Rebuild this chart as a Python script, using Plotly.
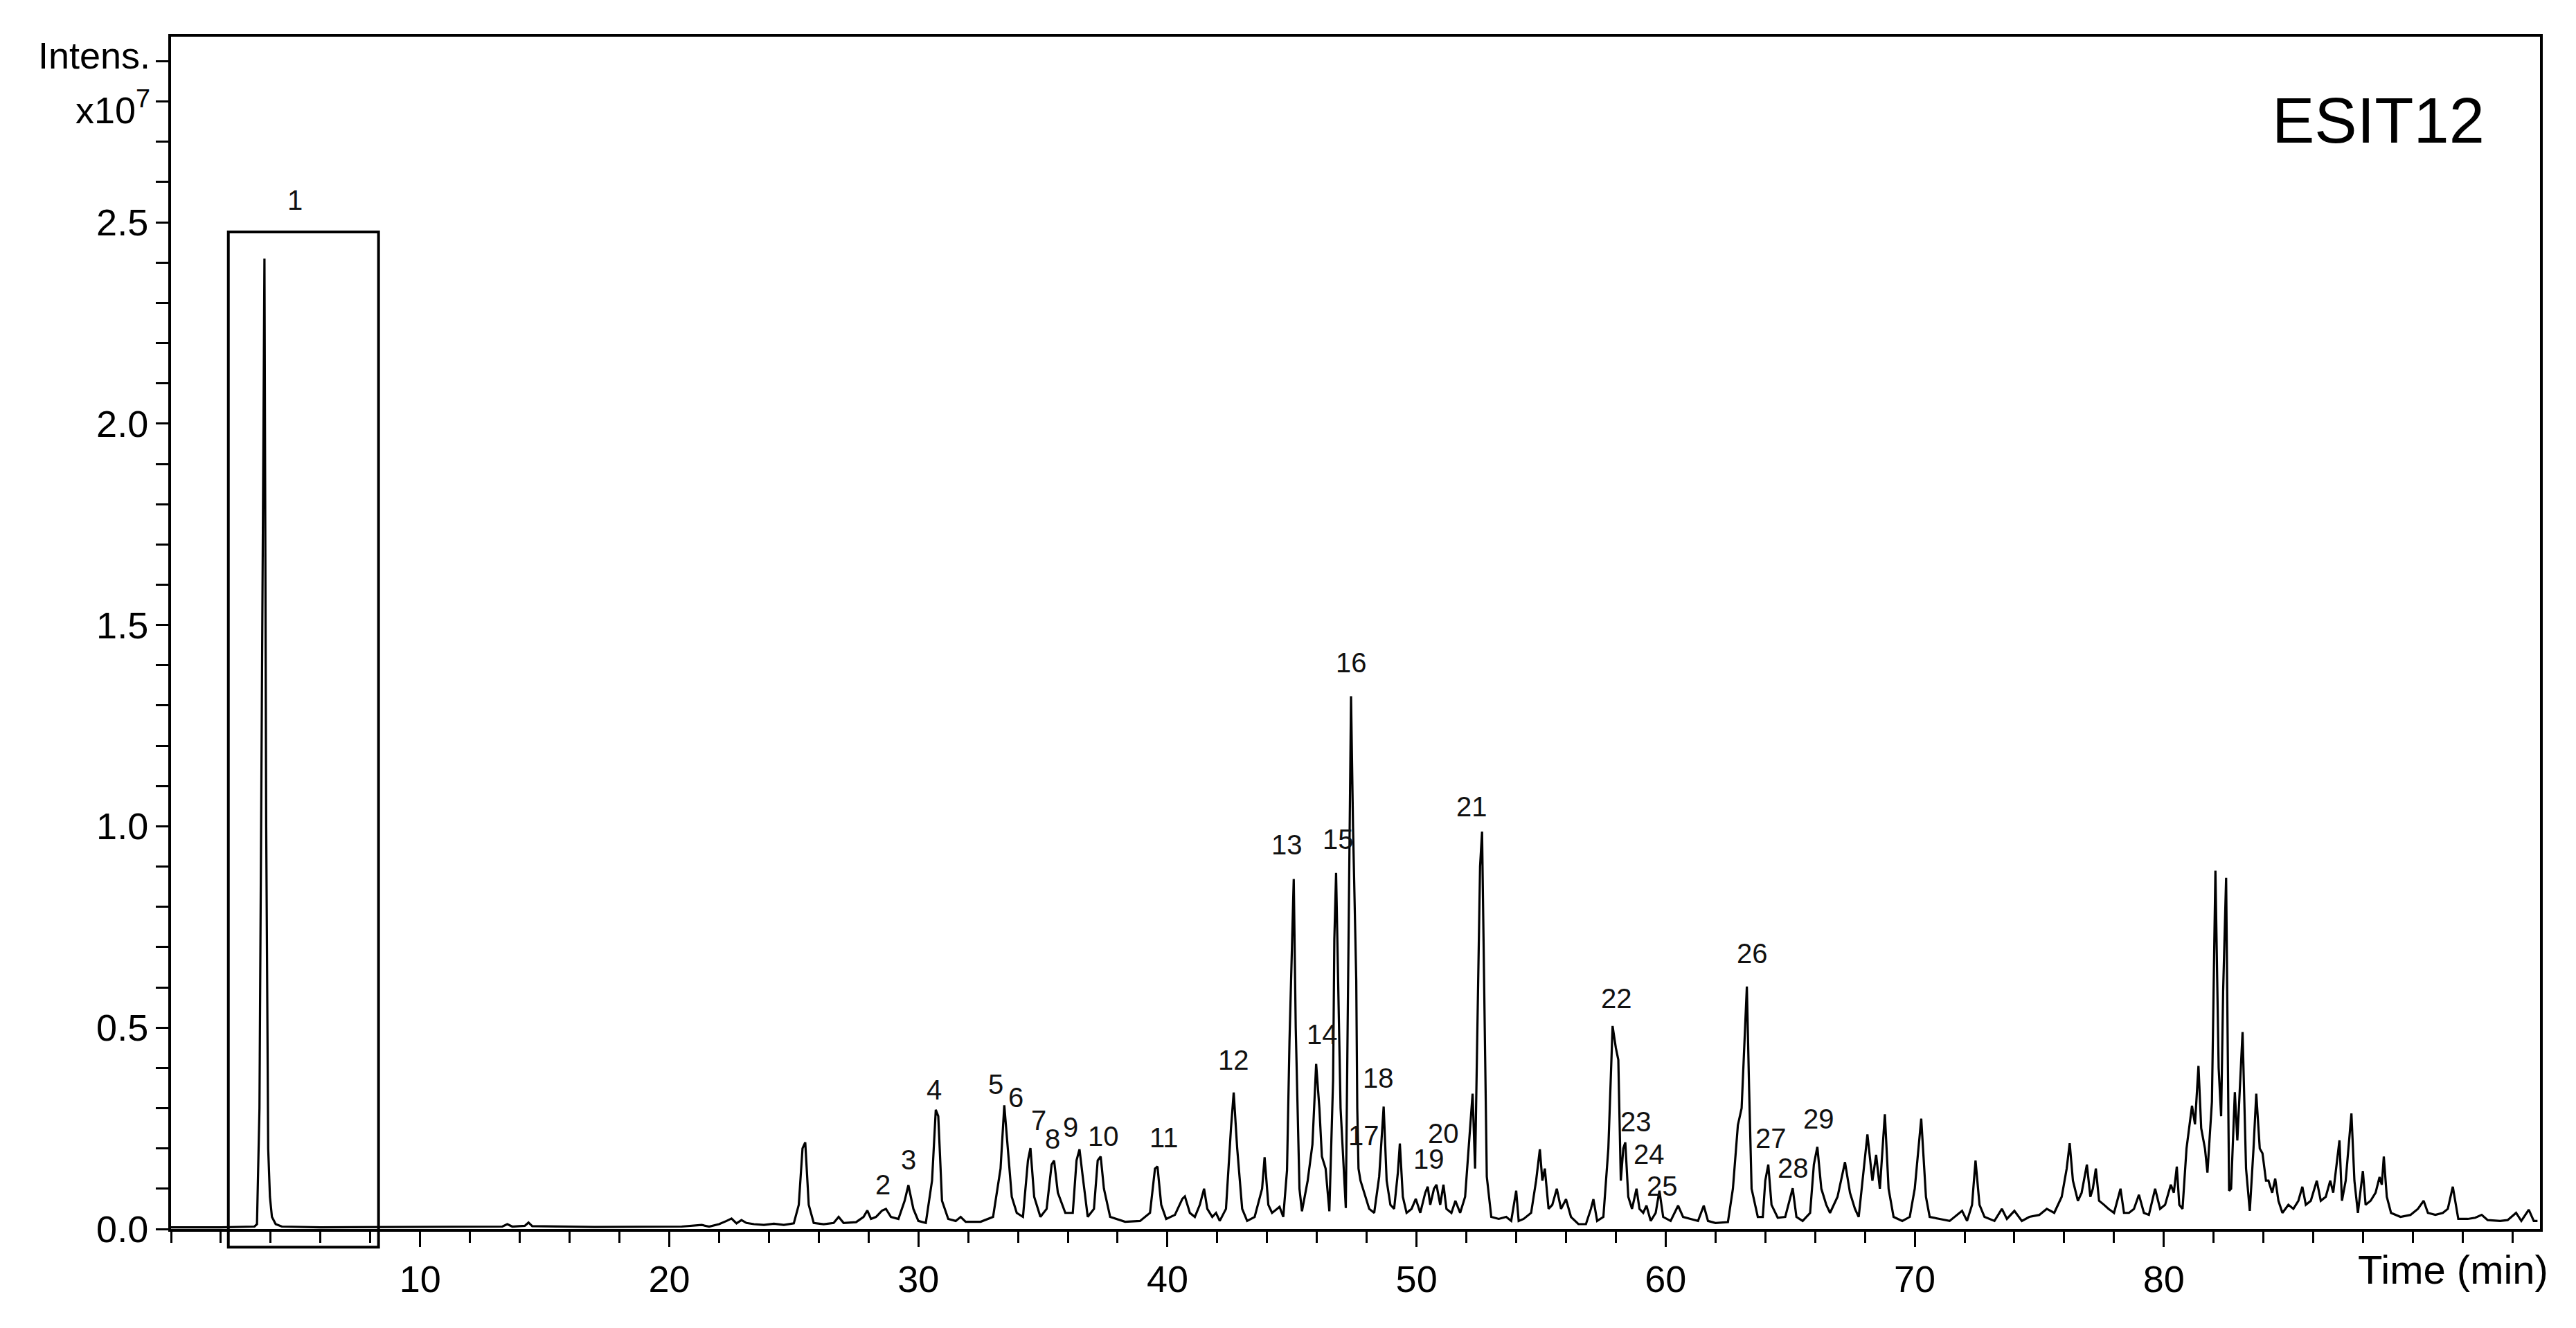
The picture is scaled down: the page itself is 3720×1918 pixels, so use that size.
import plotly.graph_objects as go

# ---- chromatogram (retention time in min, intensity in 1e7 counts) ----
time_min = [
    0.0, 2.0, 3.35, 3.45, 3.55, 3.65, 3.75, 3.82, 3.90, 3.97, 4.05, 4.20, 4.45,
    6.0, 9.0, 12.0, 13.3, 13.5, 13.7, 14.2, 14.35, 14.5, 17.0, 20.5, 21.3, 21.6,
    22.0, 22.3, 22.5, 22.7, 22.9, 23.1, 23.4, 23.8, 24.2, 24.6, 25.0, 25.2, 25.35,
    25.46, 25.6, 25.8, 26.2, 26.6, 26.8, 27.0, 27.5, 27.8, 27.95, 28.1, 28.3, 28.55,
    28.7, 28.9, 29.2, 29.45, 29.6, 29.8, 30.0, 30.3, 30.55, 30.7, 30.8, 30.95, 31.2,
    31.5, 31.7, 31.9, 32.5, 33.0, 33.3, 33.45, 33.6, 33.75, 33.95, 34.2, 34.4, 34.5,
    34.65, 34.9, 35.15, 35.35, 35.45, 35.6, 35.9, 36.2, 36.35, 36.47, 36.6, 36.8,
    37.05, 37.2, 37.32, 37.45, 37.7, 38.3, 38.9, 39.1, 39.3, 39.5, 39.6, 39.75,
    39.95, 40.3, 40.6, 40.7, 40.9, 41.1, 41.3, 41.47, 41.6, 41.8, 41.95, 42.1,
    42.35, 42.55, 42.66, 42.8, 43.0, 43.2, 43.5, 43.8, 43.9, 44.05, 44.2, 44.4,
    44.5, 44.65, 44.8, 44.9, 45.07, 45.15, 45.3, 45.4, 45.63, 45.82, 45.97, 46.1,
    46.2, 46.35, 46.5, 46.65, 46.7, 46.77, 46.85, 46.95, 47.16, 47.25, 47.3, 47.37,
    47.45, 47.58, 47.62, 47.67, 47.75, 47.85, 48.1, 48.3, 48.5, 48.68, 48.8, 48.95,
    49.1, 49.25, 49.33, 49.45, 49.6, 49.8, 49.97, 50.15, 50.35, 50.45, 50.55, 50.7,
    50.8, 50.95, 51.08, 51.2, 51.4, 51.56, 51.75, 51.95, 52.1, 52.25, 52.35, 52.45,
    52.55, 52.63, 52.72, 52.82, 53.0, 53.3, 53.6, 53.8, 54.0, 54.1, 54.3, 54.6,
    54.8, 54.95, 55.05, 55.15, 55.3, 55.45, 55.63, 55.8, 56.0, 56.2, 56.5, 56.8,
    57.0, 57.1, 57.25, 57.5, 57.7, 57.87, 58.0, 58.1, 58.2, 58.3, 58.38, 58.5,
    58.65, 58.83, 58.95, 59.1, 59.23, 59.4, 59.6, 59.75, 59.9, 60.2, 60.5, 60.7,
    61.0, 61.3, 61.53, 61.7, 62.0, 62.5, 62.7, 62.9, 63.05, 63.26, 63.35, 63.45,
    63.7, 63.9, 64.0, 64.12, 64.25, 64.5, 64.8, 65.0, 65.1, 65.25, 65.5, 65.8,
    65.95, 66.09, 66.25, 66.45, 66.6, 66.9, 67.2, 67.4, 67.6, 67.75, 67.95, 68.1,
    68.3, 68.45, 68.6, 68.8, 68.95, 69.15, 69.5, 69.8, 70.0, 70.26, 70.45, 70.6,
    71.0, 71.4, 71.9, 72.1, 72.3, 72.44, 72.6, 72.8, 73.2, 73.5, 73.7, 74.0, 74.3,
    74.6, 75.0, 75.3, 75.6, 75.9, 76.1, 76.22, 76.35, 76.55, 76.7, 76.91, 77.05,
    77.15, 77.27, 77.4, 77.6, 77.78, 78.0, 78.26, 78.4, 78.6, 78.8, 79.0, 79.2,
    79.4, 79.65, 79.85, 80.05, 80.28, 80.4, 80.52, 80.62, 80.75, 80.91, 81.13,
    81.25, 81.39, 81.5, 81.65, 81.75, 81.93, 82.07, 82.2, 82.3, 82.38, 82.5,
    82.62, 82.7, 82.85, 82.95, 83.16, 83.3, 83.45, 83.6, 83.71, 83.85, 83.96, 84.1,
    84.2, 84.35, 84.47, 84.6, 84.76, 85.0, 85.2, 85.4, 85.56, 85.7, 85.9, 86.14,
    86.3, 86.5, 86.68, 86.8, 87.05, 87.15, 87.3, 87.53, 87.65, 87.79, 87.99, 88.1,
    88.3, 88.5, 88.66, 88.75, 88.83, 88.95, 89.12, 89.5, 89.9, 90.2, 90.43, 90.6,
    90.9, 91.2, 91.4, 91.6, 91.72, 91.82, 92.2, 92.5, 92.76, 93.0, 93.5, 93.8,
    94.14, 94.35, 94.65, 94.85, 95.0,
]
intensity = [
    0.004, 0.004, 0.006, 0.012, 0.30, 1.3, 2.41, 1.0, 0.2, 0.08, 0.03, 0.012, 0.006,
    0.004, 0.005, 0.005, 0.006, 0.012, 0.006, 0.008, 0.016, 0.007, 0.005, 0.006, 0.01, 0.006,
    0.012, 0.02, 0.026, 0.014, 0.022, 0.015, 0.012, 0.01, 0.013, 0.01, 0.014, 0.06, 0.2,
    0.215, 0.06, 0.015, 0.012, 0.015, 0.03, 0.015, 0.017, 0.03, 0.046, 0.025, 0.03, 0.046,
    0.05, 0.03, 0.025, 0.07, 0.109, 0.05, 0.02, 0.015, 0.12, 0.296, 0.28, 0.07, 0.025,
    0.02, 0.03, 0.018, 0.018, 0.03, 0.15, 0.307, 0.2, 0.08, 0.04, 0.03, 0.17, 0.201,
    0.08, 0.03, 0.05, 0.16, 0.17, 0.09, 0.04, 0.04, 0.17, 0.198, 0.13, 0.03,
    0.05, 0.17, 0.18, 0.1, 0.03, 0.018, 0.02, 0.03, 0.04, 0.15, 0.155, 0.06,
    0.025, 0.035, 0.075, 0.081, 0.04, 0.03, 0.06, 0.1, 0.05, 0.03, 0.04, 0.02,
    0.05, 0.25, 0.339, 0.2, 0.05, 0.02, 0.03, 0.1, 0.178, 0.06, 0.04, 0.05,
    0.055, 0.03, 0.146, 0.468, 0.869, 0.5, 0.1, 0.044, 0.12, 0.21, 0.41, 0.3,
    0.18, 0.15, 0.044, 0.37, 0.72, 0.884, 0.6, 0.3, 0.052, 0.65, 0.95, 1.323,
    1.0, 0.617, 0.3, 0.15, 0.12, 0.1, 0.05, 0.04, 0.13, 0.304, 0.12, 0.06,
    0.05, 0.14, 0.212, 0.08, 0.04, 0.05, 0.075, 0.04, 0.09, 0.105, 0.06, 0.1,
    0.11, 0.06, 0.11, 0.05, 0.04, 0.07, 0.04, 0.08, 0.2, 0.336, 0.15, 0.5,
    0.9, 0.987, 0.6, 0.13, 0.03, 0.025, 0.03, 0.02, 0.095, 0.02, 0.025, 0.04,
    0.12, 0.198, 0.12, 0.15, 0.05, 0.06, 0.1, 0.05, 0.074, 0.03, 0.012, 0.012,
    0.05, 0.074, 0.02, 0.03, 0.2, 0.504, 0.45, 0.42, 0.12, 0.2, 0.215, 0.08,
    0.05, 0.1, 0.05, 0.04, 0.058, 0.02, 0.04, 0.095, 0.03, 0.02, 0.058, 0.03,
    0.025, 0.02, 0.058, 0.02, 0.015, 0.017, 0.1, 0.258, 0.3, 0.602, 0.35, 0.1,
    0.03, 0.03, 0.12, 0.16, 0.06, 0.028, 0.03, 0.08, 0.101, 0.03, 0.02, 0.04,
    0.16, 0.204, 0.1, 0.06, 0.04, 0.08, 0.166, 0.09, 0.05, 0.03, 0.15, 0.235,
    0.12, 0.184, 0.1, 0.285, 0.1, 0.03, 0.02, 0.03, 0.1, 0.274, 0.08, 0.03,
    0.025, 0.02, 0.045, 0.02, 0.06, 0.17, 0.06, 0.03, 0.02, 0.05, 0.025, 0.045, 0.02,
    0.03, 0.035, 0.05, 0.04, 0.08, 0.15, 0.213, 0.12, 0.07, 0.09, 0.16, 0.08,
    0.1, 0.15, 0.07, 0.06, 0.05, 0.04, 0.1, 0.04, 0.04, 0.05, 0.085, 0.04,
    0.035, 0.1, 0.05, 0.06, 0.11, 0.09, 0.155, 0.06, 0.05, 0.2, 0.306,
    0.26, 0.405, 0.25, 0.2, 0.14, 0.316, 0.89, 0.4, 0.28, 0.59, 0.872,
    0.095, 0.1, 0.34, 0.22, 0.489, 0.15, 0.045, 0.2, 0.336, 0.2, 0.188, 0.12,
    0.12, 0.09, 0.125, 0.07, 0.04, 0.06, 0.05, 0.07, 0.105, 0.06, 0.07, 0.12,
    0.07, 0.08, 0.12, 0.09, 0.22, 0.07, 0.12, 0.287, 0.12, 0.04, 0.144, 0.06,
    0.07, 0.09, 0.129, 0.11, 0.18, 0.08, 0.04, 0.03, 0.035, 0.05, 0.07, 0.04,
    0.035, 0.04, 0.05, 0.105, 0.06, 0.025, 0.025, 0.028, 0.035, 0.022, 0.02, 0.022,
    0.04, 0.02, 0.048, 0.02, 0.02,
]

# ---- numbered peak labels ----
peak_labels = [str(i) for i in range(1, 30)]
label_time = [4.98, 28.57, 29.61, 30.63, 33.12, 33.92, 34.83, 35.40, 36.10, 37.43,
              39.85, 42.66, 44.81, 46.22, 46.86, 47.37, 47.89, 48.48, 50.49, 51.08,
              52.23, 58.03, 58.81, 59.33, 59.87, 63.47, 64.22, 65.13, 66.15]
label_intensity = [2.555, 0.110, 0.172, 0.345, 0.359, 0.327, 0.270, 0.224, 0.253, 0.230,
                   0.227, 0.420, 0.955, 0.484, 0.968, 1.407, 0.232, 0.375, 0.173, 0.237,
                   1.049, 0.573, 0.266, 0.186, 0.106, 0.685, 0.225, 0.151, 0.273]

# ---- axis ticks ----
x_tickvals = [10, 20, 30, 40, 50, 60, 70, 80]
x_ticktext = ["10", "20", "30", "40", "50", "60", "70", "80"]
y_tickvals = [0.0, 0.5, 1.0, 1.5, 2.0, 2.5]
y_ticktext = ["0.0", "0.5", "1.0", "1.5", "2.0", "2.5"]
y_unit_text = ["Intens.", "x10<sup>7</sup>"]
y_unit_pos = [2.915, 2.785]

# ---- framed region around peak 1 ----
box_time = [2.30, 8.33]
box_intensity = [-0.045, 2.476]

X_RANGE = [0, 95.1]
Y_RANGE = [0, 2.961]
FONT = "Liberation Sans, Arial, sans-serif"

fig = go.Figure()
fig.add_trace(go.Scatter(
    x=time_min, y=intensity, mode="lines",
    line=dict(color="black", width=3.2), showlegend=False, hoverinfo="skip",
))

ann = []
for lab, t, v in zip(peak_labels, label_time, label_intensity):
    ann.append(dict(x=t, y=v, xref="x", yref="y", text=lab, showarrow=False,
                    font=dict(family=FONT, size=40, color="#111111"),
                    xanchor="center", yanchor="middle"))
for txt, v in zip(y_unit_text, y_unit_pos):
    ann.append(dict(x=0, y=v, xref="paper", yref="y", text=txt, showarrow=False,
                    font=dict(family=FONT, size=54, color="black"),
                    xanchor="right", yanchor="middle", xshift=-28))
ann.append(dict(x=88.6, y=2.753, xref="x", yref="y", text="ESIT12", showarrow=False,
                font=dict(family=FONT, size=92, color="black"),
                xanchor="center", yanchor="middle"))
ann.append(dict(x=91.6, y=-0.0337, xref="x", yref="paper", text="Time (min)", showarrow=False,
                font=dict(family=FONT, size=58, color="black"),
                xanchor="center", yanchor="middle"))

span = Y_RANGE[1] - Y_RANGE[0]
fig.add_shape(type="rect", xref="x", yref="paper",
              x0=box_time[0], x1=box_time[1],
              y0=(box_intensity[0] - Y_RANGE[0]) / span,
              y1=(box_intensity[1] - Y_RANGE[0]) / span,
              line=dict(color="black", width=4), fillcolor="rgba(0,0,0,0)")

fig.update_layout(
    width=3720, height=1918,
    margin=dict(l=239, r=60, t=45, b=151),
    paper_bgcolor="white", plot_bgcolor="white",
    annotations=ann,
    xaxis=dict(
        range=X_RANGE, showgrid=False, zeroline=False,
        showline=True, linecolor="black", linewidth=4, mirror=True,
        tickmode="array", tickvals=x_tickvals, ticktext=x_ticktext,
        ticks="outside", ticklen=22, tickwidth=3, tickcolor="black",
        tickfont=dict(family=FONT, size=54, color="black"),
        minor=dict(dtick=2, tick0=0, ticks="outside", ticklen=16, tickwidth=3,
                   tickcolor="black", showgrid=False),
    ),
    yaxis=dict(
        range=Y_RANGE, showgrid=False, zeroline=False,
        showline=True, linecolor="black", linewidth=4, mirror=True,
        tickmode="array", tickvals=y_tickvals, ticktext=y_ticktext,
        ticks="outside", ticklen=18, tickwidth=3, tickcolor="black",
        tickfont=dict(family=FONT, size=54, color="black"),
        minor=dict(dtick=0.1, tick0=0, ticks="outside", ticklen=18, tickwidth=3,
                   tickcolor="black", showgrid=False),
    ),
)

fig.write_html("out.html")
